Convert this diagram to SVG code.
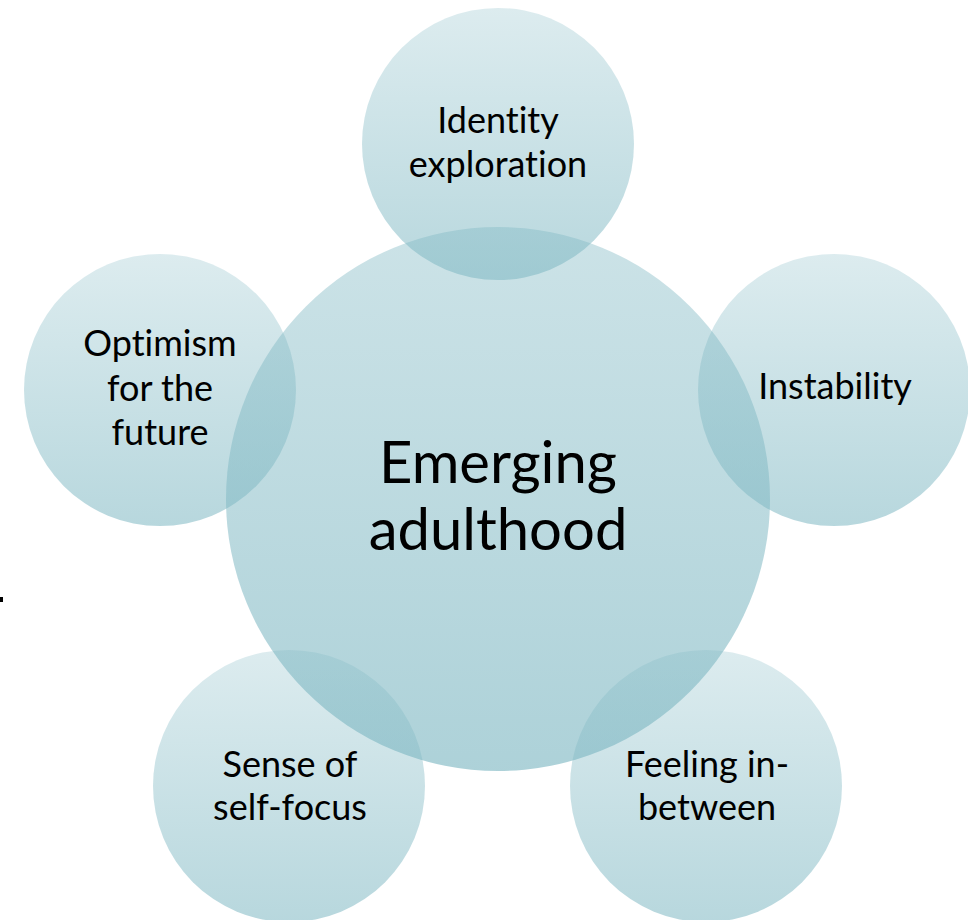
<svg xmlns="http://www.w3.org/2000/svg" width="968" height="920" viewBox="0 0 968 920">
  <defs>
    <!-- translucent aqua fills, lighter at the top -->
    <linearGradient id="hubFill" x1="0" y1="0" x2="0" y2="1">
      <stop offset="0" stop-color="#7fb8c3" stop-opacity="0.40"/>
      <stop offset="1" stop-color="#7fb8c3" stop-opacity="0.64"/>
    </linearGradient>
    <linearGradient id="spokeFill" x1="0" y1="0" x2="0" y2="1">
      <stop offset="0" stop-color="#7fb8c3" stop-opacity="0.27"/>
      <stop offset="1" stop-color="#7fb8c3" stop-opacity="0.56"/>
    </linearGradient>
    <style>
      .hub { fill: url(#hubFill); }
      .spoke { fill: url(#spokeFill); }
      .label { font-family: "Lato", "Liberation Sans", sans-serif; fill: #000; text-anchor: middle;
               font-variant-ligatures: none; font-feature-settings: "liga" 0, "clig" 0; }
      .small { font-size: 36px; }
      .big { font-size: 58px; }
    </style>
  </defs>

  <rect width="968" height="920" fill="#ffffff"/>

  <!-- central concept -->
  <g id="node-center">
    <circle class="hub" cx="498" cy="499" r="272"/>
    <text class="label big" x="498" y="483">Emerging</text>
    <text class="label big" x="498" y="550">adulthood</text>
  </g>

  <g id="node-identity">
    <circle class="spoke" cx="498" cy="144" r="136"/>
    <text class="label small" x="498" y="133">Identity</text>
    <text class="label small" x="498" y="177">exploration</text>
  </g>

  <g id="node-instability">
    <circle class="spoke" cx="834" cy="390" r="136"/>
    <text class="label small" x="835" y="399">Instability</text>
  </g>

  <g id="node-optimism">
    <circle class="spoke" cx="160" cy="390" r="136"/>
    <text class="label small" x="160" y="356">Optimism</text>
    <text class="label small" x="160" y="401">for the</text>
    <text class="label small" x="160" y="445">future</text>
  </g>

  <g id="node-selffocus">
    <circle class="spoke" cx="289" cy="786" r="136"/>
    <text class="label small" x="290" y="777">Sense of</text>
    <text class="label small" x="290" y="820">self-focus</text>
  </g>

  <g id="node-inbetween">
    <circle class="spoke" cx="706" cy="786" r="136"/>
    <text class="label small" x="707" y="777">Feeling in-</text>
    <text class="label small" x="707" y="820">between</text>
  </g>

  <!-- no connectors: the circles overlap the hub directly -->
  <g id="connectors"/>

  <!-- small dark tick at the left edge -->
  <rect x="0" y="597" width="3" height="5" fill="#000"/>
</svg>
